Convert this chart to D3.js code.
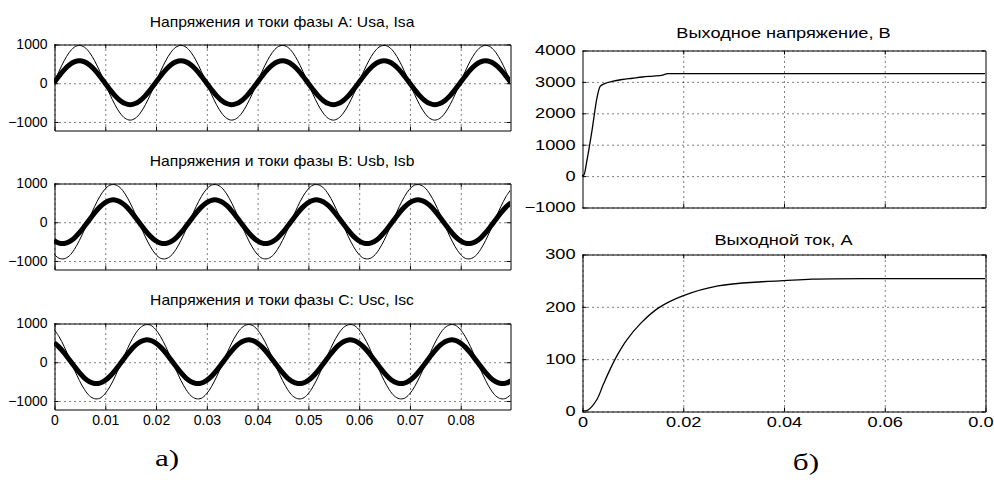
<!DOCTYPE html>
<meta charset="utf-8">
<style>
  body { margin: 0; background: #fff; }
  text { font-family: "Liberation Sans", Arial, sans-serif; fill: #000; }
</style>
<div id="chart"></div>
<script src="https://d3js.org/d3.v7.min.js"></script>
<script>

// ---- data ----
var phaseTitles = ["Напряжения и токи фазы A: Usa, Isa",
                   "Напряжения и токи фазы B: Usb, Isb",
                   "Напряжения и токи фазы C: Usc, Isc"];

// sample times, s
var tSin = [0,.001,.002,.003,.004,.005,.006,.007,.008,.009,.010,.011,.012,.013,.014,.015,.016,.017,.018,.019,
  .020,.021,.022,.023,.024,.025,.026,.027,.028,.029,.030,.031,.032,.033,.034,.035,.036,.037,.038,.039,
  .040,.041,.042,.043,.044,.045,.046,.047,.048,.049,.050,.051,.052,.053,.054,.055,.056,.057,.058,.059,
  .060,.061,.062,.063,.064,.065,.066,.067,.068,.069,.070,.071,.072,.073,.074,.075,.076,.077,.078,.079,
  .080,.081,.082,.083,.084,.085,.086,.087,.088,.089,.090];

var usa = [0,298,567,781,918,965,918,781,567,298,0,-298,-567,-781,-918,-965,-918,-781,-567,-298,
  0,298,567,781,918,965,918,781,567,298,0,-298,-567,-781,-918,-965,-918,-781,-567,-298,
  0,298,567,781,918,965,918,781,567,298,0,-298,-567,-781,-918,-965,-918,-781,-567,-298,
  0,298,567,781,918,965,918,781,567,298,0,-298,-567,-781,-918,-965,-918,-781,-567,-298,
  0,298,567,781,918,965,918,781,567,298,0];
var isa = [0,175,332,457,537,565,537,457,332,175,0,-175,-332,-457,-537,-565,-537,-457,-332,-175,
  0,175,332,457,537,565,537,457,332,175,0,-175,-332,-457,-537,-565,-537,-457,-332,-175,
  0,175,332,457,537,565,537,457,332,175,0,-175,-332,-457,-537,-565,-537,-457,-332,-175,
  0,175,332,457,537,565,537,457,332,175,0,-175,-332,-457,-537,-565,-537,-457,-332,-175,
  0,175,332,457,537,565,537,457,332,175,0];

var usb = [-836,-944,-955,-882,-717,-483,-201,101,393,646,836,944,955,882,717,483,201,-101,-393,-646,
  -836,-944,-955,-882,-717,-483,-201,101,393,646,836,944,955,882,717,483,201,-101,-393,-646,
  -836,-944,-955,-882,-717,-483,-201,101,393,646,836,944,955,882,717,483,201,-101,-393,-646,
  -836,-944,-955,-882,-717,-483,-201,101,393,646,836,944,955,882,717,483,201,-101,-393,-646,
  -836,-944,-955,-882,-717,-483,-201,101,393,646,836];
var isb = [-489,-553,-562,-516,-420,-283,-118,59,230,378,489,553,562,516,420,283,118,-59,-230,-378,
  -489,-553,-562,-516,-420,-283,-118,59,230,378,489,553,562,516,420,283,118,-59,-230,-378,
  -489,-553,-562,-516,-420,-283,-118,59,230,378,489,553,562,516,420,283,118,-59,-230,-378,
  -489,-553,-562,-516,-420,-283,-118,59,230,378,489,553,562,516,420,283,118,-59,-230,-378,
  -489,-553,-562,-516,-420,-283,-118,59,230,378,489];

var usc = [836,646,393,101,-201,-483,-717,-882,-955,-944,-836,-646,-393,-101,201,483,717,882,955,944,
  836,646,393,101,-201,-483,-717,-882,-955,-944,-836,-646,-393,-101,201,483,717,882,955,944,
  836,646,393,101,-201,-483,-717,-882,-955,-944,-836,-646,-393,-101,201,483,717,882,955,944,
  836,646,393,101,-201,-483,-717,-882,-955,-944,-836,-646,-393,-101,201,483,717,882,955,944,
  836,646,393,101,-201,-483,-717,-882,-955,-944,-836];
var isc = [489,378,230,59,-118,-283,-420,-516,-562,-553,-489,-378,-230,-59,118,283,420,516,562,553,
  489,378,230,59,-118,-283,-420,-516,-562,-553,-489,-378,-230,-59,118,283,420,516,562,553,
  489,378,230,59,-118,-283,-420,-516,-562,-553,-489,-378,-230,-59,118,283,420,516,562,553,
  489,378,230,59,-118,-283,-420,-516,-562,-553,-489,-378,-230,-59,118,283,420,516,562,553,
  489,378,230,59,-118,-283,-420,-516,-562,-553,-489];

var sinTicksX = [0,0.01,0.02,0.03,0.04,0.05,0.06,0.07,0.08];
var sinTicksY = [-1000,0,1000];

// output voltage
var tU = [0,0.0004,0.001,0.002,0.003,0.0036,0.0045,0.006,0.008,0.010,0.012,0.014,0.016,0.017,0.02,0.08];
var uOut = [0,30,500,1450,2500,2840,2930,3000,3060,3100,3140,3170,3200,3245,3250,3250];

// output current
var tI = [0,0.0012,0.0029,0.0042,0.0056,0.0072,0.0089,0.0116,0.0152,0.02,0.027,0.0357,0.04,0.0457,0.06,0.08];
var iOut = [0,2,21,50,80,110,136,167,197,220,239,247,249,252,253,253];

var outTicksX = [0,0.02,0.04,0.06,0.08];
var uTicksY = [-1000,0,1000,2000,3000,4000];
var iTicksY = [0,100,200,300];

// ---- drawing ----
var svg = d3.select("#chart").append("svg")
    .attr("width", 994)
    .attr("height", 480);

var clipId = 0;
var numFmt = function(d) { return d3.format("d")(d); };
var tFmt = function(d) { return d === 0 ? "0" : d3.format(".2f")(d); };

function panel(o) {
  var x = d3.scaleLinear().domain(o.xDomain).range([o.left, o.right]);
  var y = d3.scaleLinear().domain(o.yDomain).range([o.bottom, o.top]);
  var w = o.right - o.left, h = o.bottom - o.top;
  var g = svg.append("g").attr("transform", "translate(0.5,0.5)");

  // dotted grid
  g.append("g")
    .attr("transform", "translate(0," + o.bottom + ")")
    .call(d3.axisBottom(x).tickValues(o.xTicks).tickSize(-h).tickFormat(""))
    .call(function(s) { s.select(".domain").remove(); })
    .selectAll("line").attr("stroke-dasharray", "1,4");
  g.append("g")
    .attr("transform", "translate(" + o.left + ",0)")
    .call(d3.axisLeft(y).tickValues(o.yTicks).tickSize(-w).tickFormat(""))
    .call(function(s) { s.select(".domain").remove(); })
    .selectAll("line").attr("stroke-dasharray", "1,4");

  // curves
  var id = "clip" + (clipId++);
  svg.append("clipPath").attr("id", id)
    .append("rect").attr("x", o.left).attr("y", o.top).attr("width", w).attr("height", h);
  o.series.forEach(function(s) {
    var line = d3.line()
      .x(function(d, i) { return x(s.t[i]); })
      .y(function(d) { return y(d); })
      .curve(s.curve);
    svg.append("path")
      .attr("clip-path", "url(#" + id + ")")
      .attr("d", line(s.v))
      .attr("fill", "none")
      .attr("stroke", "#000")
      .attr("stroke-width", s.width)
      .attr("stroke-linejoin", "round");
  });

  // box + inward ticks
  g.append("g")
    .attr("transform", "translate(0," + o.bottom + ")")
    .call(d3.axisBottom(x).tickValues(o.xTicks).tickSize(-4).tickSizeOuter(0)
      .tickPadding(6).tickFormat(o.xLabels ? tFmt : ""));
  g.append("g")
    .attr("transform", "translate(0," + o.top + ")")
    .call(d3.axisTop(x).tickValues(o.xTicks).tickSize(-4).tickSizeOuter(0).tickFormat(""));
  g.append("g")
    .attr("transform", "translate(" + o.left + ",0)")
    .call(d3.axisLeft(y).tickValues(o.yTicks).tickSize(-4).tickSizeOuter(0).tickPadding(7).tickFormat(numFmt));
  g.append("g")
    .attr("transform", "translate(" + o.right + ",0)")
    .call(d3.axisRight(y).tickValues(o.yTicks).tickSize(-4).tickSizeOuter(0).tickFormat(""));
  g.selectAll(".domain").attr("stroke", "#000");
  g.selectAll(".tick line").attr("stroke", "#000");
  g.selectAll(".tick text").style("font-size", "14px").style("fill", "#000");
  if (o.stretch) {
    g.selectAll(".tick text").each(function() {
      var t = d3.select(this);
      var tx = +t.attr("x") || 0;
      t.attr("transform", "scale(" + o.stretch + ",1)").attr("x", tx / o.stretch);
    });
  }

  // title
  svg.append("text")
    .attr("text-anchor", "middle")
    .attr("transform", "translate(" + (o.left + o.right) / 2 + "," + o.titleY + ") scale(" + o.titleStretch + ",1)")
    .style("font-size", "14px")
    .text(o.title);
}

var lefts = [{top: 44, bottom: 130, ty: 27}, {top: 183, bottom: 269, ty: 166}, {top: 323, bottom: 409, ty: 305}];
var uSeries = [usa, usb, usc], iSeries = [isa, isb, isc];

lefts.forEach(function(p, k) {
  panel({
    left: 54, right: 510, top: p.top, bottom: p.bottom,
    xDomain: [0, 0.0898], yDomain: [-1220, 1000],
    xTicks: sinTicksX, yTicks: sinTicksY,
    xLabels: k === 2,
    title: phaseTitles[k], titleY: p.ty, titleStretch: 1.12,
    series: [
      {t: tSin, v: uSeries[k], width: 1, curve: d3.curveCatmullRom},
      {t: tSin, v: iSeries[k], width: 5, curve: d3.curveCatmullRom}
    ]
  });
});

panel({
  left: 582, right: 985, top: 50, bottom: 207,
  xDomain: [0, 0.08], yDomain: [-1000, 4000],
  xTicks: outTicksX.slice(1, 4), yTicks: uTicksY,
  xLabels: false, stretch: 1.3,
  title: "Выходное напряжение, В", titleY: 38, titleStretch: 1.3,
  series: [{t: tU, v: uOut, width: 1.3, curve: d3.curveMonotoneX}]
});

panel({
  left: 582, right: 985, top: 254, bottom: 411,
  xDomain: [0, 0.08], yDomain: [0, 300],
  xTicks: outTicksX, yTicks: iTicksY,
  xLabels: true, stretch: 1.3,
  title: "Выходной ток, А", titleY: 245, titleStretch: 1.3,
  series: [{t: tI, v: iOut, width: 1.3, curve: d3.curveCatmullRom}]
});

// captions
[{s: "а)", x: 167, y: 466}, {s: "б)", x: 806, y: 470}].forEach(function(c) {
  svg.append("text")
    .attr("text-anchor", "middle")
    .attr("transform", "translate(" + c.x + "," + c.y + ") scale(1.3,1)")
    .style("font-family", "'Liberation Serif', 'Times New Roman', serif")
    .style("font-size", "24px")
    .text(c.s);
});

</script>
